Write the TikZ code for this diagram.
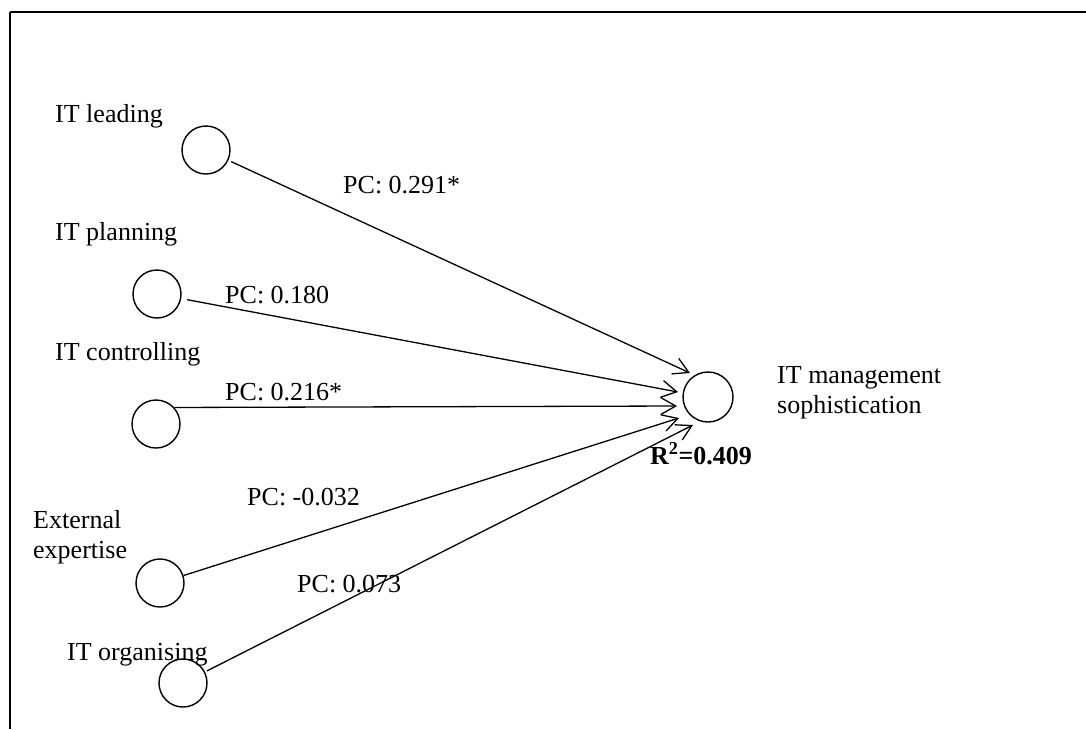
\documentclass[tikz,border=0pt]{standalone}
\usepackage{fontspec}
\setmainfont{Liberation Serif}
\usetikzlibrary{arrows.meta}
\begin{document}
\begin{tikzpicture}[x=1pt,y=-1pt,
  lv/.style={circle,draw,line width=1.4pt,minimum size=48pt,inner sep=0pt},
  lbl/.style={anchor=base west,inner sep=0pt,font=\fontsize{26}{30}\selectfont},
  conn/.style={line width=1.3pt,-{Straight Barb[length=15pt,width=17pt,line width=1.3pt]}},
]
\useasboundingbox (0,0) rectangle (1086,729);

% frame (top and left edges only)
\draw[line width=2.6pt] (10,12) -- (1086,12);
\draw[line width=1.6pt] (10,12) -- (10,729);

% latent variables
\node[lv] (lead) at (206,150) {};
\node[lv] (plan) at (157,294) {};
\node[lv] (ctrl) at (156,424) {};
\node[lv] (ext)  at (160,583) {};
\node[lv] (org)  at (183,683) {};
\node[lv,minimum size=50pt] (ims) at (708,397) {};

% construct names (multi-line nodes are placed by their last baseline)
\node[lbl] (tlead) at (55,122) {IT leading};
\node[lbl] (tplan) at (55,240) {IT planning};
\node[lbl] (tctrl) at (55,360) {IT controlling};
\node[lbl,align=left] (texp) at (33,558) {External\\expertise};
\node[lbl] (torg) at (67,660) {IT organising};
\node[lbl,align=left] (tims) at (777,413) {IT management\\sophistication};
\node[lbl] (rsq) at (650,464) {\textbf{R\textsuperscript{2}=0.409}};

% arrow tips next to the dependent construct
\coordinate (t1) at (690,373);
\coordinate (t2) at (678,392);
\coordinate (t3) at (677,406);
\coordinate (t4) at (679,418);
\coordinate (t5) at (693,425);

% paths
\draw[conn,shorten <=3pt] (lead) -- (t1);
\draw[conn,shorten <=6pt] (plan) -- (t2);
\draw[conn] (ctrl.42) -- (t3);
\draw[conn] (ext) -- (t4);
\draw[conn,shorten <=2pt] (org) -- (t5);

% path coefficients
\node[lbl] (pc1) at (343,193) {PC: 0.291*};
\node[lbl] (pc2) at (225,303) {PC: 0.180};
\node[lbl] (pc3) at (225,400) {PC: 0.216*};
\node[lbl] (pc4) at (247,505) {PC: -0.032};
\node[lbl] (pc5) at (297,592) {PC: 0.073};
\end{tikzpicture}
\end{document}
